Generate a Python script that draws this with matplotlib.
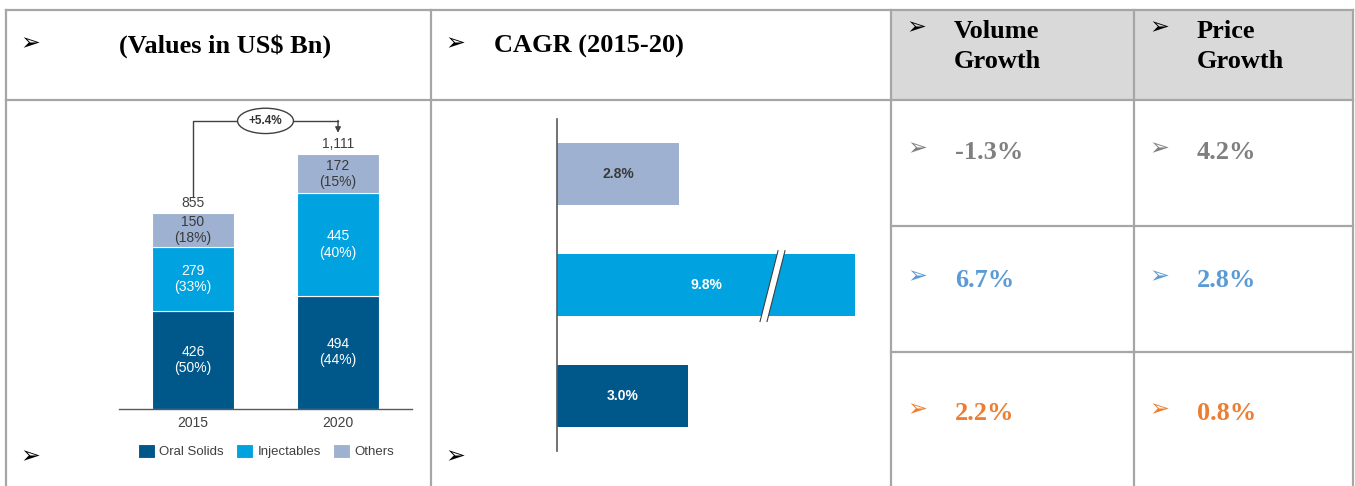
import matplotlib.pyplot as plt
from matplotlib.patches import Polygon, Rectangle

W, H = 1355, 486

# stacked bar data (US$ Bn)
years = ["2015", "2020"]
segments = ["Oral Solids", "Injectables", "Others"]
oral = [426, 494]
inject = [279, 445]
others = [150, 172]
total_cagr = "+5.4%"

# CAGR 2015-20 per segment (Oral Solids, Injectables, Others)
cagr_seg = [3.0, 9.8, 2.8]

# table values per row (Others, Injectables, Oral Solids)
vol_growth = ["-1.3%", "6.7%", "2.2%"]
price_growth = ["4.2%", "2.8%", "0.8%"]

colors = ["#00578a", "#00a3e0", "#9fb1d0"]
row_colors = ["#7f7f7f", "#5b9bd5", "#ed7d31"]
grid = "#a6a6a6"
txt = "#404040"
serif = "Liberation Serif"
sans = "Liberation Sans"
arrow = "\u27a2"

fig = plt.figure(figsize=(W / 100, H / 100), dpi=100)


def box(x0, y0, x1, y1):
    # pixel box (origin top-left) -> figure fraction
    return [x0 / W, 1 - y1 / H, (x1 - x0) / W, (y1 - y0) / H]


# ---- table frame -------------------------------------------------------
base = fig.add_axes([0, 0, 1, 1])
base.set_xlim(0, W)
base.set_ylim(H, 0)
base.axis("off")

base.add_patch(Rectangle((891, 10), 462, 90, color="#d9d9d9", lw=0))
for x in [6, 431, 891, 1134, 1353]:
    base.plot([x, x], [10, H], color=grid, lw=1.6)
base.plot([6, 1353], [10, 10], color=grid, lw=1.6)
base.plot([6, 1353], [100, 100], color=grid, lw=1.6)
for y in [226, 352]:
    base.plot([891, 1353], [y, y], color=grid, lw=1.6)

for x, y in [(30, 43), (455, 43), (30, 456), (455, 456)]:
    base.text(x, y, arrow, fontsize=17, ha="center", va="center", color="black")
base.text(225, 53, "(Values in US$ Bn)", family=serif, weight="bold", fontsize=19,
          ha="center", va="baseline")
base.text(494, 53, "CAGR (2015-20)", family=serif, weight="bold", fontsize=19,
          ha="left", va="baseline")

for x0, (l1, l2) in [(916, ("Volume", "Growth")), (1159, ("Price", "Growth"))]:
    base.text(x0, 27, arrow, fontsize=17, ha="center", va="center", color="black")
    base.text(x0 + 38, 38, l1, family=serif, weight="bold", fontsize=19, va="baseline")
    base.text(x0 + 38, 68, l2, family=serif, weight="bold", fontsize=19, va="baseline")

baselines = [159, 287, 420]
for i, yb in enumerate(baselines):
    c = row_colors[i]
    for x0, val in [(917, vol_growth[i]), (1159, price_growth[i])]:
        base.text(x0, yb - 11, arrow, fontsize=17, ha="center", va="center", color=c)
        base.text(x0 + 38, yb, val, family=serif, weight="bold", fontsize=19,
                  va="baseline", color=c)

# ---- stacked bars ------------------------------------------------------
ax = fig.add_axes(box(119, 100, 412, 409))
ax.patch.set_visible(False)
x = [0, 1]
bottoms = [0, 0]
totals = [a + b + c for a, b, c in zip(oral, inject, others)]
for k, (name, vals) in enumerate(zip(segments, [oral, inject, others])):
    ax.bar(x, vals, width=0.56, bottom=bottoms, color=colors[k],
           edgecolor="white", linewidth=0.8, label=name)
    for i in x:
        pct = vals[i] / totals[i] * 100
        ax.text(i, bottoms[i] + vals[i] / 2, f"{vals[i]}\n({pct:.0f}%)",
                ha="center", va="center", fontsize=10, family=sans,
                linespacing=1.2, color="white" if k < 2 else "#3a3a3a")
    bottoms = [b + v for b, v in zip(bottoms, vals)]

for i in x:
    ax.text(i, totals[i] + 43, f"{totals[i]:,}", ha="center", va="center",
            fontsize=10, family=sans, color=txt)

top = max(totals) + 144
ax.plot([0, 0, 1], [totals[0] + 69, top, top], color=txt, lw=1)
ax.annotate("", xy=(1, max(totals) + 92), xytext=(1, top + 2),
            arrowprops=dict(arrowstyle="-|>", color=txt, lw=1,
                            mutation_scale=8, shrinkA=0, shrinkB=0))
ax.text(0.5, top, total_cagr, ha="center", va="center", fontsize=8.5,
        family=sans, weight="bold", color="#333333",
        bbox=dict(boxstyle="ellipse,pad=0.25", fc="white", ec=txt, lw=1))

ax.set_xlim(-0.51, 1.51)
ax.set_ylim(0, 1346)
ax.set_xticks(x)
ax.set_xticklabels(years, family=sans, fontsize=10, color=txt)
ax.set_yticks([])
ax.tick_params(axis="x", length=0, pad=5)
for s in ["top", "right", "left"]:
    ax.spines[s].set_visible(False)
ax.spines["bottom"].set_color("#595959")
ax.spines["bottom"].set_linewidth(1)

leg = ax.legend(loc="center", bbox_to_anchor=(266 / W, 1 - 451 / H),
                bbox_transform=fig.transFigure, ncol=3, frameon=False,
                handlelength=1.3, handleheight=1.3, handletextpad=0.35,
                columnspacing=0.9, prop={"family": sans, "size": 9.5})
for t in leg.get_texts():
    t.set_color(txt)

# ---- CAGR horizontal bars ---------------------------------------------
bx = fig.add_axes(box(557, 119, 880, 451))
bx.patch.set_visible(False)
cap = 6.82  # longest bar is drawn broken
shown = [min(v, cap) for v in cagr_seg]
pos = [0, 1, 2]
bx.barh(pos, shown, height=0.56, color=colors)
for p, v, w in zip(pos, cagr_seg, shown):
    bx.text(w / 2, p, f"{v:.1f}%", ha="center", va="center", fontsize=10,
            family=sans, weight="bold",
            color="#3a3a3a" if p == 2 else "white")

# break mark on the capped bar
b = pos[cagr_seg.index(max(cagr_seg))]
y0, y1 = b - 0.33, b + 0.31
xs = [4.645, 4.805, 5.217, 5.057]
bx.add_patch(Polygon([(xs[0], y0), (xs[1], y0), (xs[2], y1), (xs[3], y1)],
                     closed=True, fc="white", ec="none", zorder=3, clip_on=False))
bx.plot([xs[0], xs[3]], [y0, y1], color=txt, lw=0.8, zorder=4, clip_on=False)
bx.plot([xs[1], xs[2]], [y0, y1], color=txt, lw=0.8, zorder=4, clip_on=False)

bx.set_xlim(0, 7.39)
bx.set_ylim(-0.5, 2.5)
bx.set_xticks([])
bx.set_yticks([])
for s in ["top", "right", "bottom"]:
    bx.spines[s].set_visible(False)
bx.spines["left"].set_color("#595959")
bx.spines["left"].set_linewidth(1.2)

fig.savefig("out.png", dpi=100)
